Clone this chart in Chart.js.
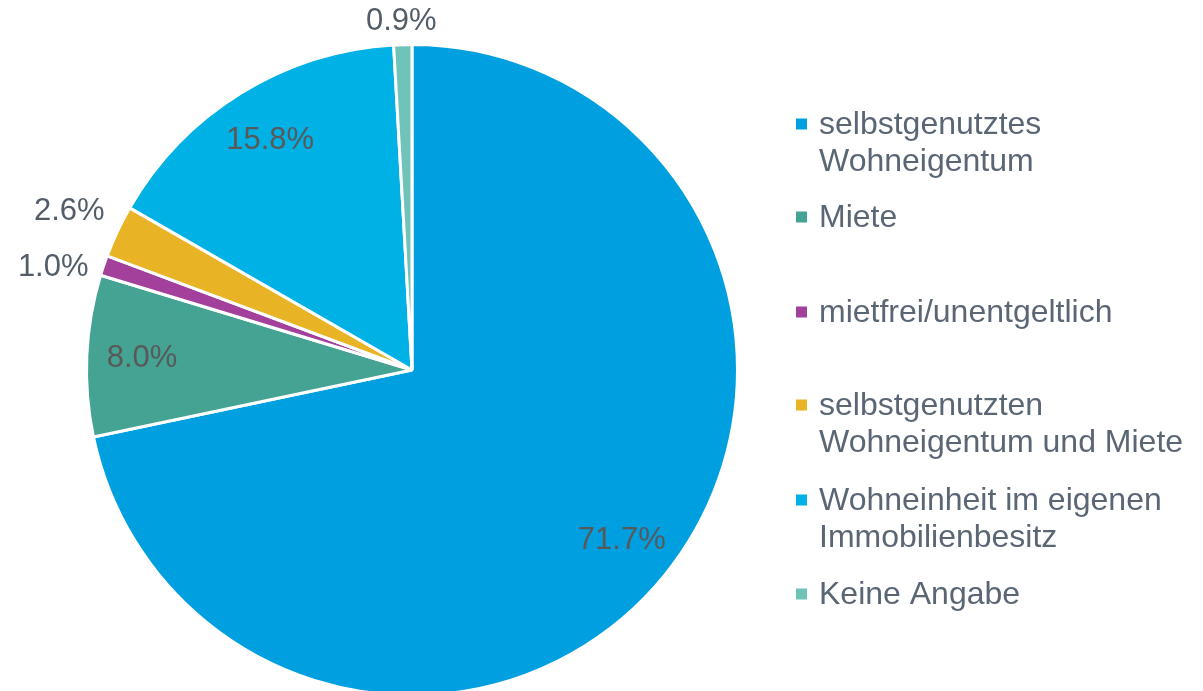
<!DOCTYPE html>
<html>
<head>
<meta charset="utf-8">
<script src="https://cdn.jsdelivr.net/npm/chart.js@4/dist/chart.umd.min.js"></script>
<style>
  html, body { margin: 0; padding: 0; background: #ffffff; overflow: hidden; }
  #wrap { width: 1203px; height: 691px; overflow: hidden; position: relative; }
  canvas { display: block; }
</style>
</head>
<body>
<div id="wrap"><canvas id="c" width="1203" height="700"></canvas></div>
<script>
// ---- data ----
const categories = [
  ["selbstgenutztes", "Wohneigentum"],
  ["Miete"],
  ["mietfrei/unentgeltlich"],
  ["selbstgenutzten", "Wohneigentum und Miete"],
  ["Wohneinheit im eigenen", "Immobilienbesitz"],
  ["Keine Angabe"]
];
const shares = [71.7, 8.0, 1.0, 2.6, 15.8, 0.9];
const sliceColors = ["#009FE0", "#44A393", "#A3409C", "#E8B425", "#00B1E6", "#70C3B8"];

const FONT = "'Liberation Sans', Arial, sans-serif";

// percent labels: inside for large slices, outside for small ones
const pctLabels = {
  id: 'pctLabels',
  afterDatasetsDraw(chart) {
    const ctx = chart.ctx;
    const meta = chart.getDatasetMeta(0);
    ctx.save();
    ctx.font = '31px ' + FONT;
    ctx.textAlign = 'center';
    ctx.textBaseline = 'middle';
    const items = [];
    meta.data.forEach((arc, i) => {
      const v = shares[i];
      const txt = v.toFixed(1) + '%';
      const mid = (arc.startAngle + arc.endAngle) / 2;
      const r = arc.outerRadius;
      const c = Math.cos(mid), s = Math.sin(mid);
      if (v > 5) {
        const d = r * 0.83;
        items.push({ txt, x: arc.x + c * d, y: arc.y + s * d, inside: true });
      } else {
        const w = ctx.measureText(txt).width / 2;
        const h = 5;
        const d = r + 18;
        items.push({ txt, x: arc.x + c * d + c * w, y: arc.y + s * d + s * h, inside: false });
      }
    });
    // keep neighbouring outside labels apart
    const outs = items.filter(o => !o.inside);
    const minSep = 56;
    for (let k = 1; k < outs.length; k++) {
      const a = outs[k - 1], b = outs[k];
      const dy = Math.abs(a.y - b.y);
      if (dy < minSep && Math.abs(a.x - b.x) < 120) {
        const m = (a.y + b.y) / 2, sgn = a.y < b.y ? -1 : 1;
        a.y = m + sgn * minSep / 2;
        b.y = m - sgn * minSep / 2;
      }
    }
    items.forEach(o => {
      ctx.fillStyle = o.inside ? '#595959' : '#535D68';
      ctx.fillText(o.txt, o.x, o.y);
    });
    ctx.restore();
  }
};

// custom legend on the right (multi-line entries)
const sideLegend = {
  id: 'sideLegend',
  afterDraw(chart) {
    const ctx = chart.ctx;
    ctx.save();
    ctx.font = '32px ' + FONT;
    ctx.textBaseline = 'middle';
    ctx.textAlign = 'left';
    const markerX = 796, size = 11, textX = 819, lineH = 37;
    const firstY = [124, 217, 312, 405, 500, 594];
    categories.forEach((lines, i) => {
      const y0 = firstY[i];
      ctx.fillStyle = sliceColors[i];
      ctx.fillRect(markerX, y0 - size / 2, size, size);
      ctx.fillStyle = '#5B6675';
      lines.forEach((ln, k) => ctx.fillText(ln, textX, y0 + 1 + k * lineH));
    });
    ctx.restore();
  }
};

new Chart(document.getElementById('c'), {
  type: 'pie',
  data: {
    labels: categories.map(l => l.join(' ')),
    datasets: [{
      data: shares,
      backgroundColor: sliceColors,
      borderColor: '#ffffff',
      borderWidth: 3
    }]
  },
  options: {
    responsive: false,
    animation: false,
    layout: { padding: { left: 85, top: 43, right: 464, bottom: 3 } },
    plugins: {
      legend: { display: false },
      tooltip: { enabled: false },
      title: { display: false }
    }
  },
  plugins: [pctLabels, sideLegend]
});
</script>
</body>
</html>
